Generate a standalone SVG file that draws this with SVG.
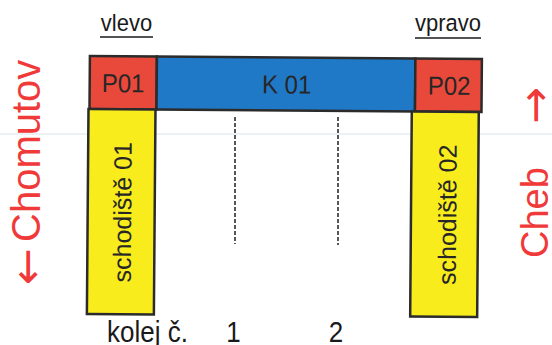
<svg xmlns="http://www.w3.org/2000/svg" width="552" height="345" viewBox="0 0 552 345">
<style>
text{font-family:"Liberation Sans",Arial,"DejaVu Sans",sans-serif;}
.box{stroke:#2b2b2b;stroke-width:2.5;}
.red{fill:#e9493b;}
.blue{fill:#2079c6;}
.yel{fill:#f8ec1c;}
.lbl{fill:#262626;font-size:24px;text-anchor:middle;}
.stair{fill:#262626;font-size:25px;text-anchor:middle;}
.dir{fill:#f03a3a;}
.arr{font-family:"DejaVu Sans",sans-serif;font-size:44px;}
.blk{fill:#1a1a1a;}
.ul{stroke:#1a1a1a;stroke-width:1.6;}
.track{stroke:#2e2e2e;stroke-width:1.6;stroke-dasharray:4 2;fill:none;}
</style>
<rect x="0" y="0" width="552" height="345" fill="#ffffff"/>
<line x1="0" y1="134" x2="552" y2="134" stroke="#e6edf2" stroke-width="1.5"/>

<g id="label-vlevo">
<text class="blk" transform="translate(126.5 31) scale(1 1.08)" font-size="22" text-anchor="middle">vlevo</text>
<line class="ul" x1="100" y1="37" x2="153" y2="37"/>
</g>
<g id="label-vpravo">
<text class="blk" transform="translate(448 31) scale(1 1.08)" font-size="22" text-anchor="middle">vpravo</text>
<line class="ul" x1="415" y1="38" x2="481" y2="38"/>
</g>

<g transform="rotate(0.45 276 172)">
<g id="P01">
<rect class="box red" x="89" y="57.5" width="67" height="53"/>
<text class="lbl" transform="translate(122.5 93.4) scale(1 1.08)">P01</text>
</g>
<g id="K01">
<rect class="box blue" x="156" y="57.5" width="258.5" height="53"/>
<text class="lbl" transform="translate(286 93.4) scale(1 1.08)">K 01</text>
</g>
<g id="P02">
<rect class="box red" x="414.5" y="57.5" width="66.5" height="53"/>
<text class="lbl" transform="translate(448.5 93.4) scale(1 1.08)">P02</text>
</g>
<g id="schodiste01">
<rect class="box yel" x="88" y="110.5" width="67" height="205"/>
<text class="stair" transform="translate(131.5 213.4) rotate(-90)" x="0" y="0">schodiště 01</text>
</g>
<g id="schodiste02">
<rect class="box yel" x="411.3" y="110.5" width="67" height="205"/>
<text class="stair" transform="translate(456.5 213.4) rotate(-90)" x="0" y="0">schodiště 02</text>
</g>
</g>

<g id="connectors">
<line class="track" x1="235" y1="117" x2="235" y2="244"/>
<line class="track" x1="338" y1="117" x2="338" y2="245"/>
</g>

<g id="dir-chomutov">
<text class="dir" font-size="40" transform="translate(40 285) rotate(-90)" x="0" y="0"><tspan class="arr" dy="2">←</tspan><tspan x="43" dy="-2">Chomutov</tspan></text>
</g>
<g id="dir-cheb">
<text class="dir" font-size="38" transform="translate(548 257) rotate(-90)" x="-1" y="0">Cheb<tspan class="arr" x="133" dy="2">→</tspan></text>
</g>

<g id="kolej">
<text class="blk" font-size="26" transform="translate(107 342) scale(1 1.12)">kolej č.</text>
<text class="blk" font-size="26" transform="translate(233.5 342) scale(1 1.12)" text-anchor="middle">1</text>
<text class="blk" font-size="26" transform="translate(336 342) scale(1 1.12)" text-anchor="middle">2</text>
</g>
</svg>
